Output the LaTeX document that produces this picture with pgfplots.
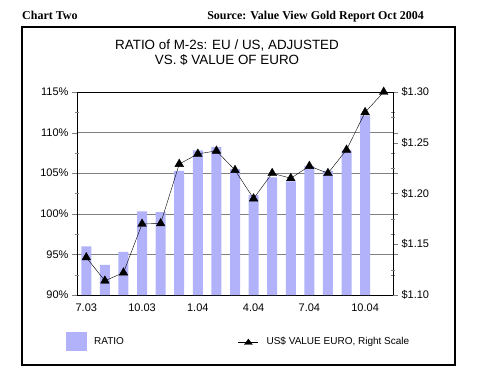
\documentclass[border=0pt]{standalone}
\usepackage{pgfplots}
\pgfplotsset{compat=1.18}
\usepackage{fontspec}
\setmainfont{Liberation Sans}
\newfontfamily\serifb{Liberation Serif}
\definecolor{barcol}{RGB}{178,178,250}
\definecolor{gridgray}{RGB}{128,128,128}
\begin{document}
\begin{tikzpicture}[x=1pt,y=1pt]
\useasboundingbox (0,0) rectangle (479,389);
\draw[line width=2.5pt] (22,24) rectangle (455,362);
\node[anchor=base west,inner sep=0pt,font=\serifb\bfseries\fontsize{12}{14}\selectfont] at (22,369) {Chart Two};
\node[anchor=base east,inner sep=0pt,font=\serifb\bfseries\fontsize{12}{14}\selectfont] at (424,369) {Source: Value View Gold Report Oct 2004};
\node[anchor=base,inner sep=0pt,font=\fontsize{13.4}{15}\selectfont] at (227,339) {RATIO of M-2s: EU / US, ADJUSTED};
\node[anchor=base,inner sep=0pt,font=\fontsize{13.4}{15}\selectfont] at (227,324) {VS. \$ VALUE OF EURO};
\begin{axis}[
  at={(77pt,94pt)}, anchor=south west,
  scale only axis, width=316pt, height=203pt,
  xmin=-0.5, xmax=16.5, ymin=90, ymax=115,
  /pgf/number format/assume math mode=true,
  ytick={90,95,...,115},
  yticklabel={\pgfmathprintnumber{\tick}\%},
  xtick={0,3,6,9,12,15},
  xticklabels={7.03,10.03,1.04,4.04,7.04,10.04},
  x tick style={draw=none},
  y tick style={gridgray},
  tick align=outside,
  major tick length=5pt,
  ymajorgrids, grid style={gridgray},
  extra y ticks={92.5,97.5,102.5,107.5,112.5},
  extra y tick labels={},
  extra y tick style={tick align=center, major tick length=4pt, ymajorgrids=false},
  ticklabel style={font=\fontsize{11}{13}\selectfont},
  axis line style={black},
  legend style={at={(-0.035,-0.2315)}, anchor=west, draw=none, fill=none,
    inner sep=0pt, font=\fontsize{10}{12}\selectfont, column sep=5pt},
]
\addplot[ybar, bar width=10pt, fill=barcol, draw=none,
  legend image code/.code={\fill[barcol] (0pt,-9.5pt) rectangle (21pt,9.5pt);}]
  coordinates {(0,96.0) (1,93.7) (2,95.3) (3,100.3) (4,100.2) (5,105.3) (6,107.8) (7,108.2)
  (8,105.5) (9,102.3) (10,104.5) (11,104.0) (12,105.9) (13,105.3) (14,107.8) (15,112.1)};
\addlegendentry{RATIO}
\end{axis}
\begin{axis}[
  at={(77pt,94pt)}, anchor=south west,
  scale only axis, width=316pt, height=203pt,
  xmin=-0.5, xmax=16.5, ymin=1.10, ymax=1.30,
  axis x line=none, axis y line*=right,
  /pgf/number format/assume math mode=true,
  ytick={1.10,1.15,...,1.30},
  yticklabel={\$\pgfmathprintnumber[fixed,fixed zerofill,precision=2]{\tick}},
  y tick style={gridgray},
  tick align=outside,
  major tick length=5pt,
  extra y ticks={1.125,1.175,1.225,1.275},
  extra y tick labels={},
  extra y tick style={tick align=center, major tick length=4pt},
  ticklabel style={font=\fontsize{11}{13}\selectfont},
  axis line style={black},
  legend style={at={(0.5095,-0.2315)}, anchor=west, draw=none, fill=none,
    inner sep=0pt, font=\fontsize{10}{12}\selectfont, column sep=6pt},
]
\addplot[black, mark=triangle*, mark size=5pt, mark options={fill=black},
  legend image code/.code={\draw[black] (0pt,0pt) -- (20pt,0pt);
    \fill[black] (6pt,-2.5pt) -- (14pt,-2.5pt) -- (10pt,3pt) -- cycle;}]
  coordinates {(0,1.137) (1,1.114) (2,1.122) (3,1.170) (4,1.1705) (5,1.229) (6,1.239)
  (7,1.242) (8,1.223) (9,1.195) (10,1.220) (11,1.215) (12,1.227) (13,1.220) (14,1.243)
  (15,1.280) (16,1.300)};
\addlegendentry{US\$ VALUE EURO, Right Scale}
\end{axis}
\end{tikzpicture}
\end{document}
